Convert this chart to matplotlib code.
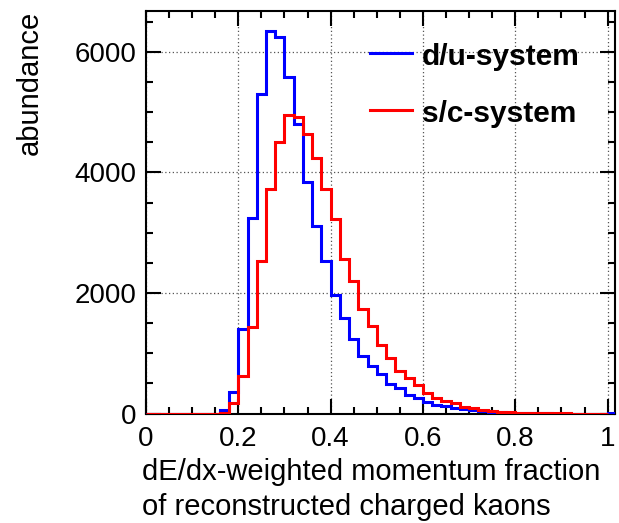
import matplotlib
matplotlib.use("Agg")
import matplotlib.pyplot as plt
from matplotlib.ticker import MultipleLocator, FuncFormatter

plt.rcParams["font.family"] = ["Liberation Sans", "DejaVu Sans"]

# histogram bins: 0.02 wide; blue has one extra bin up to 1.02
EDGES_DU = [round(0.02 * i, 2) for i in range(52)]
EDGES_SC = [round(0.02 * i, 2) for i in range(51)]

DU = [0, 0, 0, 0, 0, 0, 0, 0, 55, 353,
      1404, 3244, 5299, 6348, 6244, 5581, 4802, 3834, 3116, 2536,
      1972, 1580, 1238, 961, 784, 658, 493, 419, 303, 249,
      188, 149, 121, 88, 71, 55, 38, 28, 18, 10,
      6, 4, 2, 1, 0, 0, 0, 0, 0, 0,
      8]
SC = [0, 0, 0, 0, 0, 0, 0, 0, 8, 166,
      618, 1437, 2531, 3734, 4509, 4961, 4923, 4646, 4248, 3730,
      3232, 2569, 2196, 1732, 1459, 1132, 917, 701, 592, 470,
      343, 249, 204, 166, 116, 83, 61, 38, 28, 22,
      12, 8, 5, 3, 2, 1, 0, 0, 0, 0]

BLUE = "#0000FF"
RED = "#FF0000"

fig = plt.figure(figsize=(6.19, 5.23), dpi=100)
ax = fig.add_axes([146 / 619, 1 - 413.5 / 523, 469 / 619, 402.5 / 523])

ax.stairs(DU, EDGES_DU, color=BLUE, linewidth=2.2, zorder=3)
ax.stairs(SC, EDGES_SC, color=RED, linewidth=2.2, zorder=4)

ax.set_xlim(0, 1.016)
ax.set_ylim(0, 6680)

ax.xaxis.set_major_locator(MultipleLocator(0.2))
ax.xaxis.set_minor_locator(MultipleLocator(0.05))
ax.yaxis.set_major_locator(MultipleLocator(2000))
ax.yaxis.set_minor_locator(MultipleLocator(500))
ax.xaxis.set_major_formatter(FuncFormatter(lambda v, p: "%g" % round(v, 2)))

ax.tick_params(which="both", direction="in", top=True, right=True,
               width=1.5, labelsize=20, colors="black")
ax.tick_params(which="major", length=11)
ax.tick_params(which="minor", length=5)
ax.tick_params(axis="x", which="major", pad=9)
ax.tick_params(axis="y", which="major", pad=7)

ax.grid(True, which="major", linestyle=(0, (1, 2)), color="#555555", linewidth=0.9)
for s in ax.spines.values():
    s.set_linewidth(1.5)

# axis titles (ROOT style)
fig.text(30 / 619, 1 - 11 / 523, "abundance", rotation=90, ha="center", va="top", fontsize=21)
fig.text(142 / 619, 1 - 480 / 523, "dE/dx-weighted momentum fraction", ha="left",
         va="baseline", fontsize=21)
fig.text(142 / 619, 1 - 515 / 523, "of reconstructed charged kaons", ha="left",
         va="baseline", fontsize=21)

# legend
ax.plot([0.4776, 0.5672], [0.8964, 0.8964], color=BLUE, lw=2.2, transform=ax.transAxes)
ax.plot([0.4776, 0.5672], [0.754, 0.754], color=RED, lw=2.2, transform=ax.transAxes)
ax.text(0.5885, 0.8658, "d/u-system", transform=ax.transAxes, fontsize=21.5,
        fontweight="bold", ha="left", va="baseline")
ax.text(0.5885, 0.725, "s/c-system", transform=ax.transAxes, fontsize=21.5,
        fontweight="bold", ha="left", va="baseline")

fig.savefig("out.png", dpi=100)
